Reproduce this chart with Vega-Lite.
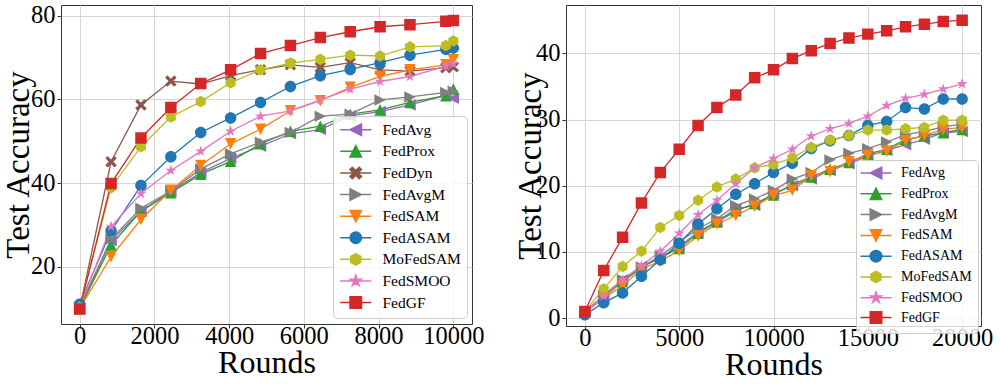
{
  "$schema": "https://vega.github.io/schema/vega-lite/v6.json",
  "background": "white",
  "padding": {"left": 2, "top": 2, "right": 4, "bottom": 0},
  "spacing": 94,
  "bounds": "flush",
  "config": {
    "view": {"stroke": "#333333", "strokeWidth": 1},
    "axis": {
      "labelFont": "Liberation Serif", "labelFontSize": 24.5, "labelColor": "#000000",
      "titleFont": "Liberation Serif", "titleFontSize": 32, "titleFontWeight": "normal", "titleColor": "#000000",
      "grid": true, "gridColor": "#d6d6d6", "gridWidth": 1,
      "domain": false, "tickColor": "#333333", "tickSize": 4
    },
    "axisY": {"titleFontSize": 33},
    "legend": {"labelFont": "Liberation Serif", "labelColor": "#000000", "fillColor": "rgba(255,255,255,0.8)", "strokeColor": "#cccccc", "cornerRadius": 4, "padding": 6, "symbolSize": 132, "symbolStrokeWidth": 1.5}
  },
  "datasets": {
    "left": [
      {"method":"FedAvg","round":0,"acc":10.0},{"method":"FedAvg","round":840,"acc":26.2},{"method":"FedAvg","round":1640,"acc":33.3},{"method":"FedAvg","round":2440,"acc":38.0},{"method":"FedAvg","round":3240,"acc":42.5},{"method":"FedAvg","round":4040,"acc":45.9},{"method":"FedAvg","round":4840,"acc":48.8},{"method":"FedAvg","round":5640,"acc":51.8},{"method":"FedAvg","round":6440,"acc":52.8},{"method":"FedAvg","round":7240,"acc":56.1},{"method":"FedAvg","round":8040,"acc":57.1},{"method":"FedAvg","round":8840,"acc":58.7},{"method":"FedAvg","round":9800,"acc":61.0},{"method":"FedAvg","round":10000,"acc":60.3},
      {"method":"FedProx","round":0,"acc":10.0},{"method":"FedProx","round":840,"acc":25.2},{"method":"FedProx","round":1640,"acc":33.3},{"method":"FedProx","round":2440,"acc":37.7},{"method":"FedProx","round":3240,"acc":42.1},{"method":"FedProx","round":4040,"acc":45.2},{"method":"FedProx","round":4840,"acc":49.4},{"method":"FedProx","round":5640,"acc":52.4},{"method":"FedProx","round":6440,"acc":53.6},{"method":"FedProx","round":7240,"acc":56.5},{"method":"FedProx","round":8040,"acc":57.5},{"method":"FedProx","round":8840,"acc":59.3},{"method":"FedProx","round":9800,"acc":60.9},{"method":"FedProx","round":10000,"acc":62.5},
      {"method":"FedDyn","round":0,"acc":10.0},{"method":"FedDyn","round":840,"acc":45.1},{"method":"FedDyn","round":1640,"acc":58.7},{"method":"FedDyn","round":2440,"acc":64.4},{"method":"FedDyn","round":3240,"acc":63.7},{"method":"FedDyn","round":4040,"acc":65.7},{"method":"FedDyn","round":4840,"acc":67.1},{"method":"FedDyn","round":5640,"acc":68.3},{"method":"FedDyn","round":6440,"acc":67.7},{"method":"FedDyn","round":7240,"acc":68.8},{"method":"FedDyn","round":8040,"acc":67.1},{"method":"FedDyn","round":8840,"acc":66.8},{"method":"FedDyn","round":9800,"acc":67.6},{"method":"FedDyn","round":10000,"acc":67.8},
      {"method":"FedAvgM","round":0,"acc":10.3},{"method":"FedAvgM","round":840,"acc":26.6},{"method":"FedAvgM","round":1640,"acc":34.0},{"method":"FedAvgM","round":2440,"acc":38.1},{"method":"FedAvgM","round":3240,"acc":43.4},{"method":"FedAvgM","round":4040,"acc":47.0},{"method":"FedAvgM","round":4840,"acc":49.8},{"method":"FedAvgM","round":5640,"acc":52.1},{"method":"FedAvgM","round":6440,"acc":56.0},{"method":"FedAvgM","round":7240,"acc":56.5},{"method":"FedAvgM","round":8040,"acc":59.9},{"method":"FedAvgM","round":8840,"acc":60.6},{"method":"FedAvgM","round":9800,"acc":61.7},{"method":"FedAvgM","round":10000,"acc":62.0},
      {"method":"FedSAM","round":0,"acc":10.0},{"method":"FedSAM","round":840,"acc":22.4},{"method":"FedSAM","round":1640,"acc":31.3},{"method":"FedSAM","round":2440,"acc":38.3},{"method":"FedSAM","round":3240,"acc":44.2},{"method":"FedSAM","round":4040,"acc":49.4},{"method":"FedSAM","round":4840,"acc":52.9},{"method":"FedSAM","round":5640,"acc":57.3},{"method":"FedSAM","round":6440,"acc":59.7},{"method":"FedSAM","round":7240,"acc":62.9},{"method":"FedSAM","round":8040,"acc":65.5},{"method":"FedSAM","round":8840,"acc":67.1},{"method":"FedSAM","round":9800,"acc":68.3},{"method":"FedSAM","round":10000,"acc":69.5},
      {"method":"FedASAM","round":0,"acc":11.0},{"method":"FedASAM","round":840,"acc":28.6},{"method":"FedASAM","round":1640,"acc":39.4},{"method":"FedASAM","round":2440,"acc":46.3},{"method":"FedASAM","round":3240,"acc":52.1},{"method":"FedASAM","round":4040,"acc":55.6},{"method":"FedASAM","round":4840,"acc":59.3},{"method":"FedASAM","round":5640,"acc":63.1},{"method":"FedASAM","round":6440,"acc":65.7},{"method":"FedASAM","round":7240,"acc":67.2},{"method":"FedASAM","round":8040,"acc":68.8},{"method":"FedASAM","round":8840,"acc":70.6},{"method":"FedASAM","round":9800,"acc":72.0},{"method":"FedASAM","round":10000,"acc":72.3},
      {"method":"MoFedSAM","round":0,"acc":10.3},{"method":"MoFedSAM","round":840,"acc":38.9},{"method":"MoFedSAM","round":1640,"acc":48.7},{"method":"MoFedSAM","round":2440,"acc":55.8},{"method":"MoFedSAM","round":3240,"acc":59.5},{"method":"MoFedSAM","round":4040,"acc":64.0},{"method":"MoFedSAM","round":4840,"acc":67.1},{"method":"MoFedSAM","round":5640,"acc":68.7},{"method":"MoFedSAM","round":6440,"acc":69.6},{"method":"MoFedSAM","round":7240,"acc":70.6},{"method":"MoFedSAM","round":8040,"acc":70.4},{"method":"MoFedSAM","round":8840,"acc":72.6},{"method":"MoFedSAM","round":9800,"acc":72.9},{"method":"MoFedSAM","round":10000,"acc":74.0},
      {"method":"FedSMOO","round":0,"acc":10.3},{"method":"FedSMOO","round":840,"acc":29.6},{"method":"FedSMOO","round":1640,"acc":37.5},{"method":"FedSMOO","round":2440,"acc":43.0},{"method":"FedSMOO","round":3240,"acc":47.6},{"method":"FedSMOO","round":4040,"acc":52.4},{"method":"FedSMOO","round":4840,"acc":56.0},{"method":"FedSMOO","round":5640,"acc":57.3},{"method":"FedSMOO","round":6440,"acc":59.9},{"method":"FedSMOO","round":7240,"acc":62.5},{"method":"FedSMOO","round":8040,"acc":64.3},{"method":"FedSMOO","round":8840,"acc":65.5},{"method":"FedSMOO","round":9800,"acc":68.0},{"method":"FedSMOO","round":10000,"acc":68.5},
      {"method":"FedGF","round":0,"acc":9.9},{"method":"FedGF","round":840,"acc":39.9},{"method":"FedGF","round":1640,"acc":50.8},{"method":"FedGF","round":2440,"acc":58.1},{"method":"FedGF","round":3240,"acc":63.8},{"method":"FedGF","round":4040,"acc":67.1},{"method":"FedGF","round":4840,"acc":71.0},{"method":"FedGF","round":5640,"acc":72.9},{"method":"FedGF","round":6440,"acc":74.8},{"method":"FedGF","round":7240,"acc":76.2},{"method":"FedGF","round":8040,"acc":77.4},{"method":"FedGF","round":8840,"acc":77.9},{"method":"FedGF","round":9800,"acc":78.7},{"method":"FedGF","round":10000,"acc":78.9}
    ],
    "right": [
      {"method":"FedAvg","round":0,"acc":1.0},{"method":"FedAvg","round":1000,"acc":3.3},{"method":"FedAvg","round":2000,"acc":5.8},{"method":"FedAvg","round":3000,"acc":7.8},{"method":"FedAvg","round":4000,"acc":9.0},{"method":"FedAvg","round":5000,"acc":10.8},{"method":"FedAvg","round":6000,"acc":13.0},{"method":"FedAvg","round":7000,"acc":14.6},{"method":"FedAvg","round":8000,"acc":16.5},{"method":"FedAvg","round":9000,"acc":17.0},{"method":"FedAvg","round":10000,"acc":18.8},{"method":"FedAvg","round":11000,"acc":20.0},{"method":"FedAvg","round":12000,"acc":21.0},{"method":"FedAvg","round":13000,"acc":22.3},{"method":"FedAvg","round":14000,"acc":23.3},{"method":"FedAvg","round":15000,"acc":24.5},{"method":"FedAvg","round":16000,"acc":25.3},{"method":"FedAvg","round":17000,"acc":26.2},{"method":"FedAvg","round":18000,"acc":27.0},{"method":"FedAvg","round":19000,"acc":28.0},{"method":"FedAvg","round":20000,"acc":28.2},
      {"method":"FedProx","round":0,"acc":1.0},{"method":"FedProx","round":1000,"acc":3.2},{"method":"FedProx","round":2000,"acc":5.5},{"method":"FedProx","round":3000,"acc":7.6},{"method":"FedProx","round":4000,"acc":9.2},{"method":"FedProx","round":5000,"acc":10.5},{"method":"FedProx","round":6000,"acc":12.8},{"method":"FedProx","round":7000,"acc":14.5},{"method":"FedProx","round":8000,"acc":16.2},{"method":"FedProx","round":9000,"acc":17.3},{"method":"FedProx","round":10000,"acc":18.6},{"method":"FedProx","round":11000,"acc":20.2},{"method":"FedProx","round":12000,"acc":21.3},{"method":"FedProx","round":13000,"acc":22.5},{"method":"FedProx","round":14000,"acc":23.5},{"method":"FedProx","round":15000,"acc":24.8},{"method":"FedProx","round":16000,"acc":25.5},{"method":"FedProx","round":17000,"acc":27.0},{"method":"FedProx","round":18000,"acc":27.5},{"method":"FedProx","round":19000,"acc":28.0},{"method":"FedProx","round":20000,"acc":28.5},
      {"method":"FedAvgM","round":0,"acc":0.8},{"method":"FedAvgM","round":1000,"acc":3.5},{"method":"FedAvgM","round":2000,"acc":5.8},{"method":"FedAvgM","round":3000,"acc":7.7},{"method":"FedAvgM","round":4000,"acc":9.4},{"method":"FedAvgM","round":5000,"acc":11.5},{"method":"FedAvgM","round":6000,"acc":13.5},{"method":"FedAvgM","round":7000,"acc":15.0},{"method":"FedAvgM","round":8000,"acc":17.0},{"method":"FedAvgM","round":9000,"acc":18.0},{"method":"FedAvgM","round":10000,"acc":19.3},{"method":"FedAvgM","round":11000,"acc":21.0},{"method":"FedAvgM","round":12000,"acc":22.0},{"method":"FedAvgM","round":13000,"acc":23.9},{"method":"FedAvgM","round":14000,"acc":24.9},{"method":"FedAvgM","round":15000,"acc":25.6},{"method":"FedAvgM","round":16000,"acc":26.6},{"method":"FedAvgM","round":17000,"acc":27.7},{"method":"FedAvgM","round":18000,"acc":28.2},{"method":"FedAvgM","round":19000,"acc":28.9},{"method":"FedAvgM","round":20000,"acc":29.3},
      {"method":"FedSAM","round":0,"acc":0.8},{"method":"FedSAM","round":1000,"acc":3.0},{"method":"FedSAM","round":2000,"acc":4.9},{"method":"FedSAM","round":3000,"acc":7.4},{"method":"FedSAM","round":4000,"acc":8.6},{"method":"FedSAM","round":5000,"acc":10.2},{"method":"FedSAM","round":6000,"acc":12.4},{"method":"FedSAM","round":7000,"acc":14.2},{"method":"FedSAM","round":8000,"acc":15.5},{"method":"FedSAM","round":9000,"acc":16.9},{"method":"FedSAM","round":10000,"acc":18.5},{"method":"FedSAM","round":11000,"acc":19.3},{"method":"FedSAM","round":12000,"acc":21.5},{"method":"FedSAM","round":13000,"acc":22.1},{"method":"FedSAM","round":14000,"acc":23.6},{"method":"FedSAM","round":15000,"acc":24.6},{"method":"FedSAM","round":16000,"acc":25.2},{"method":"FedSAM","round":17000,"acc":26.8},{"method":"FedSAM","round":18000,"acc":27.6},{"method":"FedSAM","round":19000,"acc":28.5},{"method":"FedSAM","round":20000,"acc":28.8},
      {"method":"FedASAM","round":0,"acc":0.5},{"method":"FedASAM","round":1000,"acc":2.3},{"method":"FedASAM","round":2000,"acc":3.8},{"method":"FedASAM","round":3000,"acc":6.3},{"method":"FedASAM","round":4000,"acc":8.8},{"method":"FedASAM","round":5000,"acc":11.3},{"method":"FedASAM","round":6000,"acc":14.2},{"method":"FedASAM","round":7000,"acc":16.5},{"method":"FedASAM","round":8000,"acc":18.7},{"method":"FedASAM","round":9000,"acc":20.3},{"method":"FedASAM","round":10000,"acc":22.0},{"method":"FedASAM","round":11000,"acc":23.4},{"method":"FedASAM","round":12000,"acc":25.6},{"method":"FedASAM","round":13000,"acc":26.8},{"method":"FedASAM","round":14000,"acc":27.6},{"method":"FedASAM","round":15000,"acc":29.1},{"method":"FedASAM","round":16000,"acc":29.7},{"method":"FedASAM","round":17000,"acc":31.8},{"method":"FedASAM","round":18000,"acc":31.6},{"method":"FedASAM","round":19000,"acc":33.1},{"method":"FedASAM","round":20000,"acc":33.1},
      {"method":"MoFedSAM","round":0,"acc":1.0},{"method":"MoFedSAM","round":1000,"acc":4.4},{"method":"MoFedSAM","round":2000,"acc":7.8},{"method":"MoFedSAM","round":3000,"acc":10.1},{"method":"MoFedSAM","round":4000,"acc":13.7},{"method":"MoFedSAM","round":5000,"acc":15.5},{"method":"MoFedSAM","round":6000,"acc":17.8},{"method":"MoFedSAM","round":7000,"acc":19.8},{"method":"MoFedSAM","round":8000,"acc":21.0},{"method":"MoFedSAM","round":9000,"acc":22.7},{"method":"MoFedSAM","round":10000,"acc":23.2},{"method":"MoFedSAM","round":11000,"acc":24.2},{"method":"MoFedSAM","round":12000,"acc":25.8},{"method":"MoFedSAM","round":13000,"acc":26.9},{"method":"MoFedSAM","round":14000,"acc":27.6},{"method":"MoFedSAM","round":15000,"acc":28.4},{"method":"MoFedSAM","round":16000,"acc":28.4},{"method":"MoFedSAM","round":17000,"acc":28.6},{"method":"MoFedSAM","round":18000,"acc":28.8},{"method":"MoFedSAM","round":19000,"acc":29.9},{"method":"MoFedSAM","round":20000,"acc":29.9},
      {"method":"FedSMOO","round":0,"acc":0.8},{"method":"FedSMOO","round":1000,"acc":3.3},{"method":"FedSMOO","round":2000,"acc":5.8},{"method":"FedSMOO","round":3000,"acc":7.9},{"method":"FedSMOO","round":4000,"acc":10.1},{"method":"FedSMOO","round":5000,"acc":12.8},{"method":"FedSMOO","round":6000,"acc":15.6},{"method":"FedSMOO","round":7000,"acc":17.8},{"method":"FedSMOO","round":8000,"acc":20.3},{"method":"FedSMOO","round":9000,"acc":22.7},{"method":"FedSMOO","round":10000,"acc":24.1},{"method":"FedSMOO","round":11000,"acc":25.5},{"method":"FedSMOO","round":12000,"acc":27.5},{"method":"FedSMOO","round":13000,"acc":28.6},{"method":"FedSMOO","round":14000,"acc":29.4},{"method":"FedSMOO","round":15000,"acc":30.5},{"method":"FedSMOO","round":16000,"acc":32.1},{"method":"FedSMOO","round":17000,"acc":33.2},{"method":"FedSMOO","round":18000,"acc":33.8},{"method":"FedSMOO","round":19000,"acc":34.6},{"method":"FedSMOO","round":20000,"acc":35.4},
      {"method":"FedGF","round":0,"acc":1.0},{"method":"FedGF","round":1000,"acc":7.2},{"method":"FedGF","round":2000,"acc":12.2},{"method":"FedGF","round":3000,"acc":17.4},{"method":"FedGF","round":4000,"acc":22.0},{"method":"FedGF","round":5000,"acc":25.5},{"method":"FedGF","round":6000,"acc":29.1},{"method":"FedGF","round":7000,"acc":31.8},{"method":"FedGF","round":8000,"acc":33.7},{"method":"FedGF","round":9000,"acc":36.3},{"method":"FedGF","round":10000,"acc":37.5},{"method":"FedGF","round":11000,"acc":39.2},{"method":"FedGF","round":12000,"acc":40.4},{"method":"FedGF","round":13000,"acc":41.5},{"method":"FedGF","round":14000,"acc":42.3},{"method":"FedGF","round":15000,"acc":42.9},{"method":"FedGF","round":16000,"acc":43.4},{"method":"FedGF","round":17000,"acc":44.0},{"method":"FedGF","round":18000,"acc":44.4},{"method":"FedGF","round":19000,"acc":44.8},{"method":"FedGF","round":20000,"acc":45.0}
    ]
  },
  "hconcat": [
    {
      "width": 411, "height": 319,
      "data": {"name": "left"},
      "encoding": {
        "x": {"field": "round", "type": "quantitative", "title": "Rounds",
              "scale": {"domain": [-500, 10500], "nice": false, "zero": false},
              "axis": {"values": [0, 2000, 4000, 6000, 8000, 10000], "format": "d", "labelPadding": -4, "titlePadding": 0}},
        "y": {"field": "acc", "type": "quantitative", "title": "Test Accuracy",
              "scale": {"domain": [6.3, 82.6], "nice": false, "zero": false},
              "axis": {"values": [20, 40, 60, 80], "labelPadding": 2, "titlePadding": -5}},
        "color": {"field": "method", "type": "nominal",
                  "scale": {"domain": ["FedAvg","FedProx","FedDyn","FedAvgM","FedSAM","FedASAM","MoFedSAM","FedSMOO","FedGF"],
                            "range": ["#9467bd","#2ca02c","#8c564b","#7f7f7f","#ff7f0e","#1f77b4","#bcbd22","#e377c2","#d62728"]},
                  "legend": {"title": null, "orient": "none", "legendX": 272, "legendY": 111, "labelFontSize": 15.5, "rowPadding": 3.6, "symbolOffset": 9, "labelOffset": 19}}
      },
      "layer": [
        {"mark": {"type": "line", "strokeWidth": 1.3}},
        {"mark": {"type": "point", "filled": true, "opacity": 1, "size": 132},
         "encoding": {
           "shape": {"field": "method", "type": "nominal",
                     "scale": {"domain": ["FedAvg","FedProx","FedDyn","FedAvgM","FedSAM","FedASAM","MoFedSAM","FedSMOO","FedGF"],
                               "range": [
                                 "M-1,0L1,-1L1,1ZM-2.7,0H2.7",
                                 "M0,-1L1,1L-1,1ZM-2.7,0H2.7",
                                 "M-0.6,-1L0,-0.4L0.6,-1L1,-0.6L0.4,0L1,0.6L0.6,1L0,0.4L-0.6,1L-1,0.6L-0.4,0L-1,-0.6ZM-2.7,0H2.7",
                                 "M1,0L-1,-1L-1,1ZM-2.7,0H2.7",
                                 "M0,1L1,-1L-1,-1ZM-2.7,0H2.7",
                                 "M1,0A1,1,0,1,1,-1,0A1,1,0,1,1,1,0ZM-2.7,0H2.7",
                                 "M0,-1L0.866,-0.5L0.866,0.5L0,1L-0.866,0.5L-0.866,-0.5ZM-2.7,0H2.7",
                                 "M0,-1L0.225,-0.309L0.951,-0.309L0.363,0.118L0.588,0.809L0,0.382L-0.588,0.809L-0.363,0.118L-0.951,-0.309L-0.225,-0.309ZM-2.7,0H2.7",
                                 "M-1,-1H1V1H-1ZM-2.7,0H2.7"
                               ]}}
         }}
      ]
    },
    {
      "width": 415, "height": 321,
      "data": {"name": "right"},
      "encoding": {
        "x": {"field": "round", "type": "quantitative", "title": "Rounds",
              "scale": {"domain": [-1000, 21000], "nice": false, "zero": false},
              "axis": {"values": [0, 5000, 10000, 15000, 20000], "format": "d", "labelPadding": -4, "titlePadding": 0}},
        "y": {"field": "acc", "type": "quantitative", "title": "Test Accuracy",
              "scale": {"domain": [-1.2, 47.3], "nice": false, "zero": false},
              "axis": {"values": [0, 10, 20, 30, 40], "labelPadding": 2, "titlePadding": -12}},
        "color": {"field": "method", "type": "nominal",
                  "scale": {"domain": ["FedAvg","FedProx","FedAvgM","FedSAM","FedASAM","MoFedSAM","FedSMOO","FedGF"],
                            "range": ["#9467bd","#2ca02c","#7f7f7f","#ff7f0e","#1f77b4","#bcbd22","#e377c2","#d62728"]},
                  "legend": {"title": null, "orient": "none", "legendX": 290, "legendY": 155, "labelFontSize": 14, "rowPadding": 2.8, "symbolOffset": 7, "labelOffset": 18}}
      },
      "layer": [
        {"mark": {"type": "line", "strokeWidth": 1.3}},
        {"mark": {"type": "point", "filled": true, "opacity": 1, "size": 132},
         "encoding": {
           "shape": {"field": "method", "type": "nominal",
                     "scale": {"domain": ["FedAvg","FedProx","FedAvgM","FedSAM","FedASAM","MoFedSAM","FedSMOO","FedGF"],
                               "range": [
                                 "M-1,0L1,-1L1,1ZM-2.7,0H2.7",
                                 "M0,-1L1,1L-1,1ZM-2.7,0H2.7",
                                 "M1,0L-1,-1L-1,1ZM-2.7,0H2.7",
                                 "M0,1L1,-1L-1,-1ZM-2.7,0H2.7",
                                 "M1,0A1,1,0,1,1,-1,0A1,1,0,1,1,1,0ZM-2.7,0H2.7",
                                 "M0,-1L0.866,-0.5L0.866,0.5L0,1L-0.866,0.5L-0.866,-0.5ZM-2.7,0H2.7",
                                 "M0,-1L0.225,-0.309L0.951,-0.309L0.363,0.118L0.588,0.809L0,0.382L-0.588,0.809L-0.363,0.118L-0.951,-0.309L-0.225,-0.309ZM-2.7,0H2.7",
                                 "M-1,-1H1V1H-1ZM-2.7,0H2.7"
                               ]}}
         }}
      ]
    }
  ],
  "resolve": {"scale": {"color": "independent", "shape": "independent"}, "legend": {"color": "independent", "shape": "independent"}}
}
